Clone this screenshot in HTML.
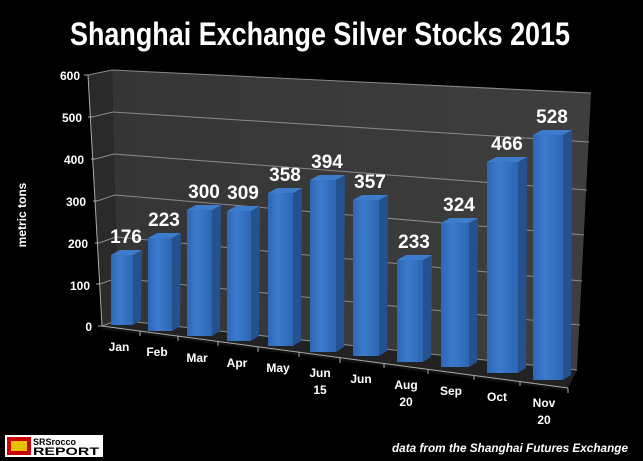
<!DOCTYPE html>
<html><head><meta charset="utf-8"><style>
html,body{margin:0;padding:0;background:#000;}
svg{display:block;}
text{font-family:"Liberation Sans",sans-serif;font-weight:bold;fill:#fff;}
</style></head><body>
<svg width="643" height="461" viewBox="0 0 643 461" xmlns="http://www.w3.org/2000/svg">
<defs>
<linearGradient id="fg" x1="0" y1="0" x2="1" y2="0">
<stop offset="0" stop-color="#2f66b4"/><stop offset="0.4" stop-color="#3b7bcc"/><stop offset="1" stop-color="#2d66b2"/></linearGradient>
<linearGradient id="wall" x1="0" y1="0" x2="1" y2="0">
<stop offset="0" stop-color="#353535"/><stop offset="1" stop-color="#3e3e3e"/></linearGradient>
</defs>
<rect width="643" height="461" fill="#000"/>
<text x="320" y="45" font-size="32" text-anchor="middle" textLength="500" lengthAdjust="spacingAndGlyphs">Shanghai Exchange Silver Stocks 2015</text>
<polygon points="88,75 112,70 118,320 102,326" fill="#2a2a2a"/>
<polygon points="112,70 591,93 577,370 118,320" fill="url(#wall)"/>
<polygon points="102,326 118,320 577,370 568,388" fill="#222"/>
<polygon points="102,326 568,388 568,391 102,329" fill="#111"/>
<g stroke="#8a8a8a" stroke-width="1" fill="none">
<polyline points="88,75 112,70 591,93"/>
<polyline points="92,117 113,112 589,142"/>
<polyline points="95,159 114,154 587,190"/>
<polyline points="97,201 115,195 584,235"/>
<polyline points="99,243 116,237 582,281"/>
<polyline points="100,284 117,278 580,325"/>
<polyline points="102,326 118,320 577,370"/>
</g>
<g stroke="#aaa" stroke-width="1">
<line x1="88" y1="75" x2="102" y2="326"/>
<line x1="102" y1="326" x2="568" y2="388"/>
<line x1="84" y1="75" x2="88" y2="75"/><line x1="88" y1="117" x2="92" y2="117"/>
<line x1="91" y1="159" x2="95" y2="159"/><line x1="93" y1="201" x2="97" y2="201"/>
<line x1="95" y1="243" x2="99" y2="243"/><line x1="96" y1="284" x2="100" y2="284"/>
<line x1="98" y1="326" x2="102" y2="326"/>
<line x1="140" y1="331" x2="140" y2="336"/><line x1="178" y1="336" x2="178" y2="341"/>
<line x1="218" y1="341" x2="218" y2="346"/><line x1="258" y1="347" x2="258" y2="352"/>
<line x1="299" y1="352" x2="299" y2="357"/><line x1="340" y1="358" x2="340" y2="363"/>
<line x1="384" y1="363" x2="384" y2="368"/><line x1="428" y1="369" x2="428" y2="374"/>
<line x1="474" y1="375" x2="474" y2="380"/><line x1="520" y1="381" x2="520" y2="386"/>
<line x1="568" y1="388" x2="568" y2="393"/>
</g>
<g font-size="12" text-anchor="end">
<text x="80" y="80">600</text><text x="82" y="122">500</text><text x="84" y="164">400</text>
<text x="86" y="206">300</text><text x="88" y="248">200</text><text x="90" y="290">100</text>
<text x="92" y="331">0</text>
</g>
<text transform="translate(26,215) rotate(-90)" font-size="12" text-anchor="middle">metric tons</text>

<g>
<polygon points="133,255 142,250 141,320 133,325" fill="#24528f"/><polygon points="111,255 120,250 142,250 133,255" fill="#3d7ccb"/><rect x="111" y="255" width="22" height="70" fill="url(#fg)"/>
<polygon points="172,238 181,233 180,326 172,331" fill="#24528f"/><polygon points="148,238 157,233 181,233 172,238" fill="#3d7ccb"/><rect x="148" y="238" width="24" height="93" fill="url(#fg)"/>
<polygon points="212,210 221,205 220,331 212,336" fill="#24528f"/><polygon points="187,210 196,205 221,205 212,210" fill="#3d7ccb"/><rect x="187" y="210" width="25" height="126" fill="url(#fg)"/>
<polygon points="251,211 260,206 259,336 251,341" fill="#24528f"/><polygon points="227,211 236,206 260,206 251,211" fill="#3d7ccb"/><rect x="227" y="211" width="24" height="130" fill="url(#fg)"/>
<polygon points="293,193 302,188 301,341 293,346" fill="#24528f"/><polygon points="268,193 277,188 302,188 293,193" fill="#3d7ccb"/><rect x="268" y="193" width="25" height="153" fill="url(#fg)"/>
<polygon points="336,180 345,175 344,347 336,352" fill="#24528f"/><polygon points="310,180 319,175 345,175 336,180" fill="#3d7ccb"/><rect x="310" y="180" width="26" height="172" fill="url(#fg)"/>
<polygon points="379,200 388,195 387,351 379,356" fill="#24528f"/><polygon points="353,200 362,195 388,195 379,200" fill="#3d7ccb"/><rect x="353" y="200" width="26" height="156" fill="url(#fg)"/>
<polygon points="423,260 432,255 431,357 423,362" fill="#24528f"/><polygon points="397,260 406,255 432,255 423,260" fill="#3d7ccb"/><rect x="397" y="260" width="26" height="102" fill="url(#fg)"/>
<polygon points="469,223 478,218 477,362 469,367" fill="#24528f"/><polygon points="441,223 450,218 478,218 469,223" fill="#3d7ccb"/><rect x="441" y="223" width="28" height="144" fill="url(#fg)"/>
<polygon points="518,162 527,157 526,368 518,373" fill="#24528f"/><polygon points="487,162 496,157 527,157 518,162" fill="#3d7ccb"/><rect x="487" y="162" width="31" height="211" fill="url(#fg)"/>
<polygon points="563,135 572,130 571,375 563,380" fill="#24528f"/><polygon points="533,135 542,130 572,130 563,135" fill="#3d7ccb"/><rect x="533" y="135" width="30" height="245" fill="url(#fg)"/>
</g>
<g font-size="19" text-anchor="middle">
<text x="126" y="243">176</text><text x="164" y="226">223</text><text x="204" y="198">300</text>
<text x="243" y="199">309</text><text x="285" y="181">358</text><text x="327" y="168">394</text>
<text x="370" y="188">357</text><text x="414" y="248">233</text><text x="459" y="211">324</text>
<text x="507" y="150">466</text><text x="552" y="123">528</text>
</g>

<g font-size="12" text-anchor="middle">
<text x="119" y="351">Jan</text><text x="157" y="356">Feb</text><text x="197" y="362">Mar</text>
<text x="237" y="367">Apr</text><text x="278" y="372">May</text>
<text x="320" y="377">Jun</text><text x="320" y="394">15</text>
<text x="361" y="383">Jun</text>
<text x="406" y="389">Aug</text><text x="406" y="406">20</text>
<text x="451" y="395">Sep</text><text x="497" y="401">Oct</text>
<text x="544" y="407">Nov</text><text x="544" y="424">20</text>
</g>
<text x="628" y="452" font-size="12" font-style="italic" font-weight="normal" text-anchor="end" textLength="236" lengthAdjust="spacingAndGlyphs">data from the Shanghai Futures Exchange</text>
<rect x="5" y="435" width="98" height="22" fill="#fff"/>
<rect x="7" y="437" width="24" height="18" fill="#c00"/>
<rect x="11" y="441" width="16" height="10" fill="#e8c000"/>
<text x="33" y="445" font-size="9" style="fill:#000" font-weight="900">SRSrocco</text>
<text x="33" y="455" font-size="11" style="fill:#000" font-weight="900" textLength="66" lengthAdjust="spacingAndGlyphs">REPORT</text>
</svg>
</body></html>
